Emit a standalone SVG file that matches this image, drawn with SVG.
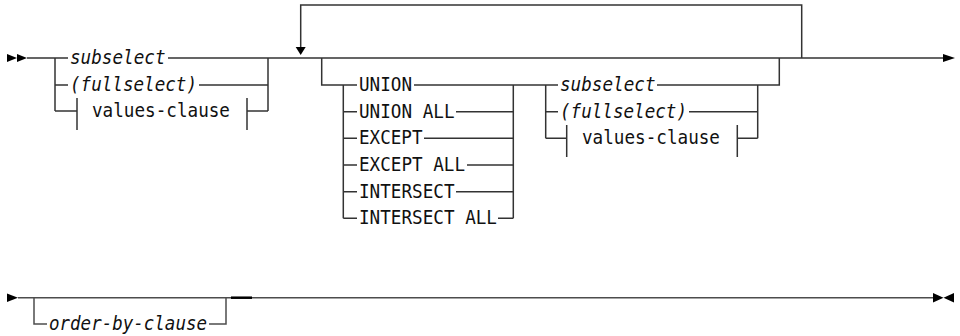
<svg xmlns="http://www.w3.org/2000/svg" width="960" height="336" viewBox="0 0 960 336">
<style>
  .t { font-family: "DejaVu Sans Mono", "Liberation Mono", monospace; font-size: 19px; fill: #111; }
  .i { font-style: italic; }
  .ln { fill: none; stroke: #333; stroke-width: 1.5; }
  .ln2 { fill: none; stroke: #4d4d4d; stroke-width: 1.5; }
  .ah { fill: #000; stroke: none; }
</style>
<rect width="960" height="336" fill="#fff"/>
<g id="connectors">
  <!-- start marker -->
  <polygon class="ah" points="7,54 17,58 7,62"/>
  <polygon class="ah" points="17,54 27,58 17,62"/>
  <!-- main line -->
  <path class="ln" d="M27 58 H68 M168 58 H944"/>
  <polygon class="ah" points="943,54 955,58 943,62"/>
  <!-- group 1 -->
  <path class="ln" d="M55 58 V111 M268 58 V111"/>
  <path class="ln" d="M55 85 H68 M199 85 H268"/>
  <path class="ln" d="M55 111 H77 M77 98 V130 M247 98 V130 M247 111 H268"/>
  <!-- repeat loop -->
  <path class="ln" d="M801.7 58 V5 H300.7 V47"/>
  <polygon class="ah" points="295.7,47 305.7,47 300.7,55"/>
  <!-- optional operator branch -->
  <path class="ln" d="M321.7 58 V85 H357"/>
  <path class="ln" d="M343.3 85 V218.3 M513.3 85 V218.3"/>
  <path class="ln" d="M414 85 H558"/>
  <path class="ln" d="M343.3 111.7 H357 M456 111.7 H513.3"/>
  <path class="ln" d="M343.3 138.3 H357 M424 138.3 H513.3"/>
  <path class="ln" d="M343.3 165 H357 M467 165 H513.3"/>
  <path class="ln" d="M343.3 191.7 H357 M456 191.7 H513.3"/>
  <path class="ln" d="M343.3 218.3 H357 M498 218.3 H513.3"/>
  <!-- group 2 -->
  <path class="ln" d="M545.7 85 V138.3 M757.7 85 V138.3"/>
  <path class="ln" d="M657 85 H779.3 V58"/>
  <path class="ln" d="M545.7 111.7 H558 M689 111.7 H757.7"/>
  <path class="ln" d="M545.7 138.3 H566.7 M566.7 125 V157 M737.3 125 V157 M737.3 138.3 H757.7"/>
  <!-- second line -->
  <polygon class="ah" points="7,293.5 18,297.7 7,302"/>
  <path class="ln2" d="M18 297.7 H933"/>
  <path class="ln2" d="M34 297.7 V324 H47 M209 324 H226 V297.7"/>
  <path d="M231 297.7 H252" stroke="#000" stroke-width="2.5" fill="none"/>
  <polygon class="ah" points="933,293 943.5,297.7 933,302.5"/>
  <polygon class="ah" points="954,293 943.5,297.7 954,302.5"/>
</g>
<g id="subselect1"><text class="t i" x="70" y="64" textLength="95.5" lengthAdjust="spacingAndGlyphs">subselect</text></g>
<g id="fullselect1"><text class="t i" x="70" y="91" textLength="127" lengthAdjust="spacingAndGlyphs">(fullselect)</text></g>
<g id="values-clause1"><text class="t" x="92" y="117" textLength="138" lengthAdjust="spacingAndGlyphs">values-clause</text></g>
<g id="union"><text class="t" x="359" y="91" textLength="53" lengthAdjust="spacingAndGlyphs">UNION</text></g>
<g id="union-all"><text class="t" x="359" y="117.7" textLength="95.5" lengthAdjust="spacingAndGlyphs">UNION ALL</text></g>
<g id="except"><text class="t" x="359" y="144.3" textLength="63.5" lengthAdjust="spacingAndGlyphs">EXCEPT</text></g>
<g id="except-all"><text class="t" x="359" y="171" textLength="106" lengthAdjust="spacingAndGlyphs">EXCEPT ALL</text></g>
<g id="intersect"><text class="t" x="359" y="197.7" textLength="95.5" lengthAdjust="spacingAndGlyphs">INTERSECT</text></g>
<g id="intersect-all"><text class="t" x="359" y="224.3" textLength="138" lengthAdjust="spacingAndGlyphs">INTERSECT ALL</text></g>
<g id="subselect2"><text class="t i" x="560" y="91" textLength="95.5" lengthAdjust="spacingAndGlyphs">subselect</text></g>
<g id="fullselect2"><text class="t i" x="560" y="117.7" textLength="127" lengthAdjust="spacingAndGlyphs">(fullselect)</text></g>
<g id="values-clause2"><text class="t" x="582" y="144.3" textLength="138" lengthAdjust="spacingAndGlyphs">values-clause</text></g>
<g id="order-by-clause"><text class="t i" x="49" y="330" textLength="158" lengthAdjust="spacingAndGlyphs">order-by-clause</text></g>
</svg>
